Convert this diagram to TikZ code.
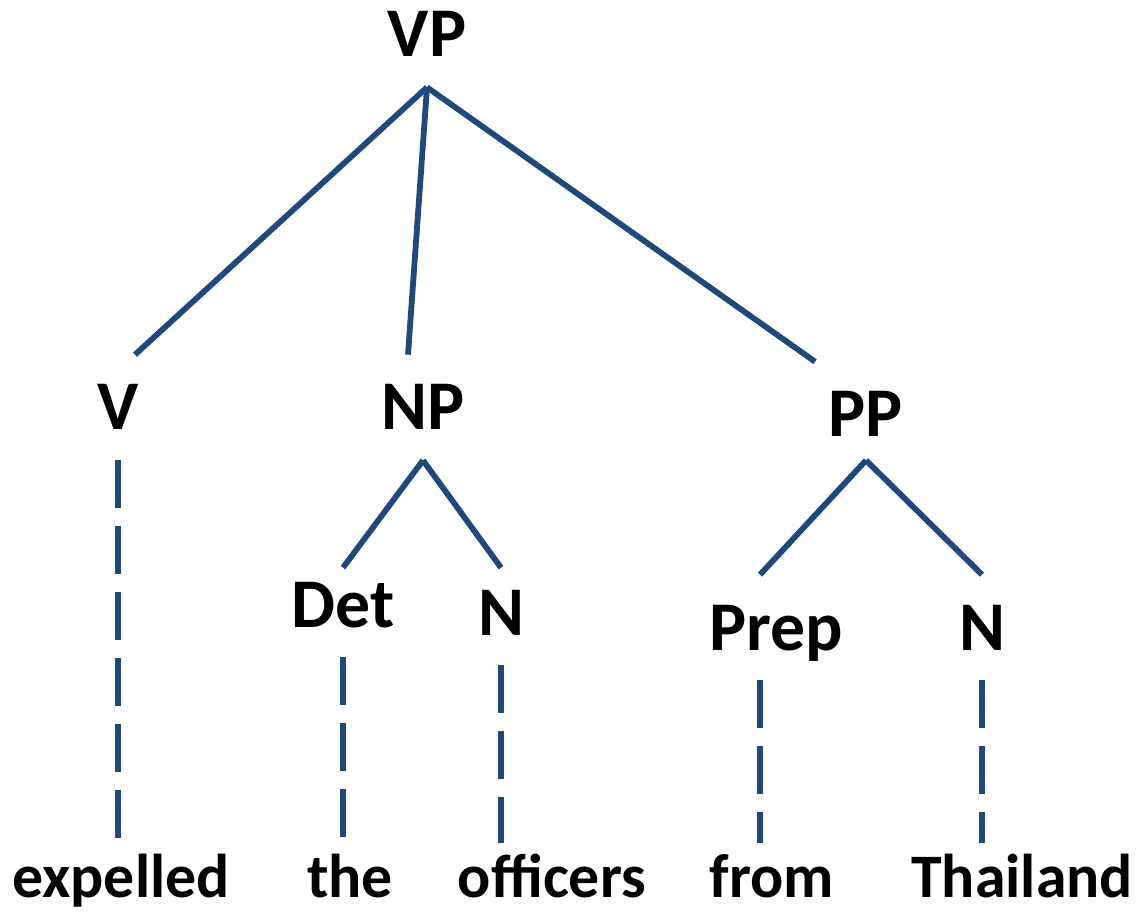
\documentclass[tikz,border=0pt]{standalone}
\usepackage{fontspec}
\setmainfont{Carlito}
\usetikzlibrary{calc}
\definecolor{BranchClr}{rgb}{0.122,0.286,0.490}

\tikzset{
  cat/.style={font=\fontsize{39.7pt}{40pt}\selectfont\bfseries,anchor=base,
    text height=0.9cm,text depth=0pt,inner xsep=0pt,inner ysep=0.6cm},
  word/.style={font=\fontsize{35.2pt}{36pt}\selectfont\bfseries,anchor=base,
    text height=0.88cm,text depth=0pt,inner xsep=0pt,inner ysep=0.2cm},
  branch/.style={line width=3.3pt,color=BranchClr},
  leafline/.style={branch,dash pattern=on 0.96cm off 0.36cm}
}

\begin{document}
\begin{tikzpicture}[x=0.02cm,y=-0.02cm]
\useasboundingbox (0,0) rectangle (1143,915);

% categories
\node[cat] (vp) at (427,57) {VP};
\node[cat] (v) at (118,430) {V};
\node[cat] (np) at (423,430) {NP};
\node[cat] (pp) at (866,437) {PP};
\node[cat] (det) at (343,627) {Det};
\node[cat] (n1) at (501,635) {N};
\node[cat] (prep) at (776,650) {Prep};
\node[cat] (n2) at (982,650) {N};

% words
\node[word] (expelled) at (121,897) {expelled};
\node[word] (the) at (350,897) {the};
\node[word] (officers) at (552,897) {officers};
\node[word] (from) at (772,897) {from};
\node[word] (thailand) at (1022,897) {Thailand};

% branches
\draw[branch] (vp.south) -- ([xshift=0.34cm]v.north);
\draw[branch] (vp.south) -- ([xshift=-0.3cm]np.north);
\draw[branch] (vp.south) -- ([xshift=-1.02cm]pp.north);
\draw[branch] (np.south) -- ([yshift=-0.32cm]det.north);
\draw[branch] (np.south) -- ([yshift=-0.16cm]n1.north);
\draw[branch] ([yshift=0.14cm]pp.south) -- ([xshift=-0.32cm]prep.north);
\draw[branch] ([yshift=0.14cm]pp.south) -- (n2.north);

% lexical links
\draw[leafline] (v.south) -- (v.south |- expelled.north);
\draw[leafline] (det.south) -- (det.south |- the.north);
\draw[leafline] (n1.south) -- (n1.south |- officers.north);
\draw[leafline] ([xshift=-0.32cm]prep.south) -- ([xshift=-0.32cm]prep.south |- from.north);
\draw[leafline] (n2.south) -- (n2.south |- thailand.north);

\end{tikzpicture}
\end{document}
